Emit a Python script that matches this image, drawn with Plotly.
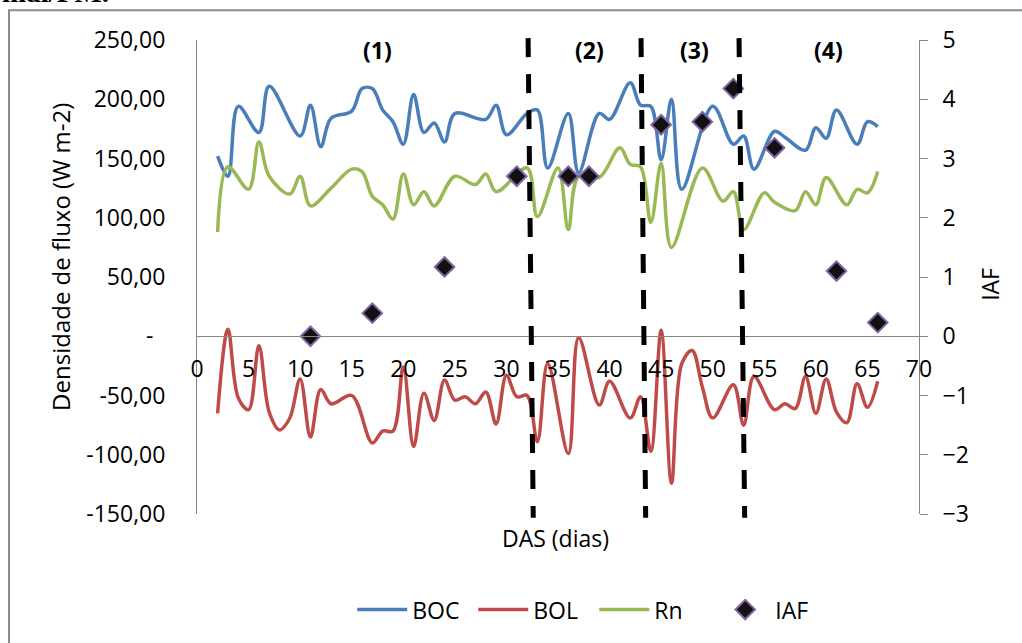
import plotly.graph_objects as go

# ---- data ----
boc_days = [2, 3, 4, 6, 7, 10, 11, 12, 13, 15, 16, 17, 18, 19, 20, 21, 22, 23, 24, 25, 28, 29, 30, 32, 33,
            34, 36, 37, 39, 40, 42, 43, 44, 45, 46, 47, 50, 52, 53, 54, 56, 57, 59, 60, 61, 62, 64, 65, 66]
boc_vals = [152, 135, 194, 172, 211, 169, 195, 160, 184, 190, 209, 209, 191, 181, 162, 204, 172, 180, 164, 188,
            183, 195, 170, 188, 191, 142, 188, 138, 188, 183, 214, 195, 194, 149, 200, 124, 194, 162, 169, 141,
            173, 168, 157, 176, 167, 191, 162, 181, 177]

bol_days = [2, 3, 4, 5, 6, 7, 8, 9, 10, 11, 12, 13, 15, 17, 18, 19, 20, 21, 22, 23, 24, 25, 26, 27, 28, 29,
            30, 31, 32, 33, 34, 36, 37, 39, 40, 42, 43, 44, 45, 46, 47, 48, 49, 50, 52, 53, 54, 56, 57, 58,
            59, 60, 61, 62, 63, 64, 65, 66]
bol_vals = [-65, 6, -52, -62, -8, -64, -79, -69, -36, -85, -45, -57, -50, -90, -80, -80, -26, -93, -48, -71,
            -37, -54, -51, -57, -47, -74, -33, -51, -50, -89, -23, -99, -1, -58, -38, -69, -51, -97, 5, -124,
            -23, -12, -43, -69, -41, -75, -34, -62, -57, -61, -34, -65, -36, -64, -73, -40, -60, -38]

rn_days = [2, 3, 5, 6, 7, 9, 10, 11, 13, 15, 16, 17, 18, 19, 20, 21, 22, 23, 25, 27, 28, 29, 32, 33, 35,
           36, 37, 39, 41, 42, 43, 44, 45, 46, 49, 51, 52, 53, 55, 56, 58, 59, 60, 61, 63, 64, 65, 66]
rn_vals = [88, 143, 124, 164, 135, 120, 135, 110, 125, 141, 139, 118, 111, 99, 137, 111, 122, 110, 135, 128,
           137, 122, 142, 101, 142, 90, 135, 134, 159, 145, 143, 96, 146, 75, 142, 114, 122, 90, 121, 113,
           106, 122, 111, 134, 111, 124, 121, 139]

iaf_days = [11, 17, 24, 31, 36, 38, 45, 49, 52, 56, 62, 66]
iaf_vals = [0.0, 0.39, 1.17, 2.7, 2.7, 2.7, 3.57, 3.62, 4.18, 3.18, 1.1, 0.23]

phase_bounds = [(32.1, 32.6), (43.05, 43.5), (52.55, 53.1)]
phase_labels = ["(1)", "(2)", "(3)", "(4)"]
phase_label_x = [17.5, 38.1, 48.2, 61.2]

left_ticks = [250, 200, 150, 100, 50, 0, -50, -100, -150]
left_text = ["250,00", "200,00", "150,00", "100,00", "50,00", "-\u00a0\u00a0", "-50,00", "-100,00", "-150,00"]
x_ticks = list(range(0, 71, 5))
right_ticks = list(range(-3, 6))

FONT = "Open Sans"
FS = 23
AX = "#868686"

fig = go.Figure()
fig.add_trace(go.Scatter(x=boc_days, y=boc_vals, name="BOC", mode="lines",
                         line=dict(color="#4A7EBB", width=3.5, shape="spline", smoothing=1.0)))
fig.add_trace(go.Scatter(x=bol_days, y=bol_vals, name="BOL", mode="lines",
                         line=dict(color="#BE4B48", width=3.5, shape="spline", smoothing=1.0)))
fig.add_trace(go.Scatter(x=rn_days, y=rn_vals, name="Rn", mode="lines",
                         line=dict(color="#98B954", width=3.5, shape="spline", smoothing=1.0)))
fig.add_trace(go.Scatter(x=iaf_days, y=iaf_vals, name="IAF", mode="markers", yaxis="y2",
                         marker=dict(symbol="diamond", size=15, color="#111111",
                                     line=dict(color="#8064A2", width=2))))

shapes = []
for x0, x1 in phase_bounds:
    shapes.append(dict(type="line", xref="x", yref="paper", x0=x0, x1=x1, y0=1.004, y1=-0.008,
                       line=dict(color="black", width=5, dash="19px,17px")))
# chart-area border
shapes.append(dict(type="rect", xref="paper", yref="paper", x0=-0.2604, x1=1.3, y0=-0.5, y1=1.063,
                   line=dict(color="#8c8c8c", width=2), fillcolor="rgba(0,0,0,0)"))

annotations = []
for lab, lx in zip(phase_labels, phase_label_x):
    annotations.append(dict(x=lx, y=0.979, xref="x", yref="paper", text="<b>" + lab + "</b>",
                            xanchor="center", yanchor="middle",
                            showarrow=False, font=dict(family=FONT, size=23, color="black")))
annotations += [
    dict(x=-0.19, y=0.542, xref="paper", yref="paper", text="Densidade de fluxo (W m-2)", textangle=-90,
         xanchor="center", yanchor="middle",
         showarrow=False, font=dict(family=FONT, size=24, color="black")),
    dict(x=1.098, y=0.485, xref="paper", yref="paper", text="IAF", textangle=-90,
         xanchor="center", yanchor="middle",
         showarrow=False, font=dict(family=FONT, size=FS, color="black")),
    dict(x=0.497, y=-0.05, xref="paper", yref="paper", text="DAS (dias)",
         xanchor="center", yanchor="middle",
         showarrow=False, font=dict(family=FONT, size=FS, color="black")),
    dict(x=-0.2729, y=1.064, xref="paper", yref="paper", text="<b>mal/FM.</b>", xanchor="left",
         yanchor="bottom", showarrow=False,
         font=dict(family="Liberation Serif", size=29, color="black")),
]

fig.update_layout(
    width=1022, height=643,
    margin=dict(l=197, r=103, t=40, b=127),
    paper_bgcolor="white", plot_bgcolor="white",
    font=dict(family=FONT, size=FS, color="black"),
    showlegend=True,
    legend=dict(orientation="h", x=0.215, y=-0.2017, xanchor="left", yanchor="middle",
                font=dict(family=FONT, size=FS), itemwidth=50, bgcolor="rgba(0,0,0,0)",
                traceorder="normal", entrywidth=56, entrywidthmode="pixels"),
    xaxis=dict(range=[0, 70], tickvals=x_ticks, anchor="free", position=0.375, showline=True,
               linecolor=AX, linewidth=1, ticks="", showgrid=False, zeroline=False,
               ticklabelstandoff=12, tickfont=dict(family=FONT, size=FS)),
    yaxis=dict(range=[-150, 250], tickvals=left_ticks, ticktext=left_text, showline=True,
               linecolor=AX, linewidth=1, ticks="", showgrid=False, zeroline=False,
               ticklabelstandoff=26, tickfont=dict(family=FONT, size=FS)),
    yaxis2=dict(range=[-3, 5], tickvals=right_ticks, overlaying="y", side="right", showline=True,
                linecolor=AX, linewidth=1, ticks="outside", ticklen=8, tickcolor=AX, showgrid=False,
                zeroline=False, ticklabelstandoff=10, tickfont=dict(family=FONT, size=FS)),
    shapes=shapes,
    annotations=annotations,
)

fig.write_html("out.html", config={"displayModeBar": False},
               post_script="document.body.style.margin='0';")
